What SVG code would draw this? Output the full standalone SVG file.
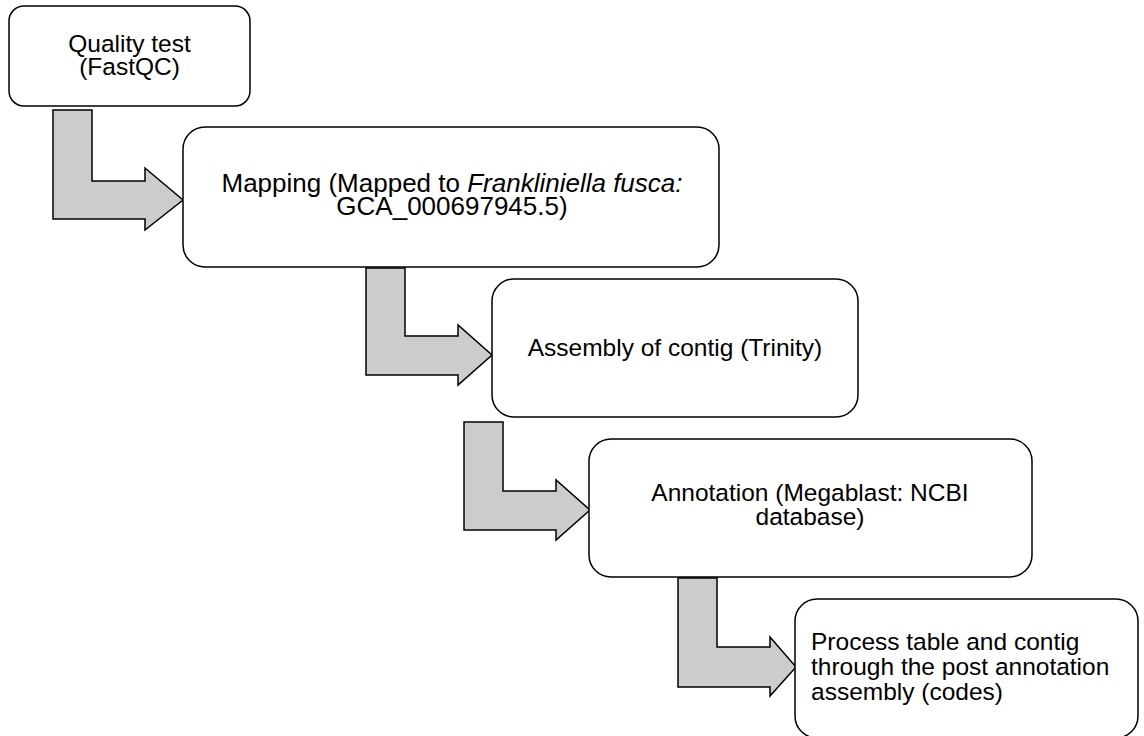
<svg xmlns="http://www.w3.org/2000/svg" width="1144" height="736" viewBox="0 0 1144 736">
<style>
.box{fill:#ffffff;stroke:#000000;stroke-width:1.5}
.arr{fill:#cccccc;stroke:#000000;stroke-width:1.5;stroke-linejoin:miter}
.t{font-family:"Liberation Sans",Arial,sans-serif;font-size:24.5px;fill:#000000}
.c{text-anchor:middle}
.big{font-size:26px}
</style>
<rect width="1144" height="736" fill="#ffffff"/>
<g id="connectors">
<polygon class="arr" points="53,110 92,110 92,181 145,181 145,168 183,200 145,230 145,219 53,219"/>
<polygon class="arr" points="366,268 405,268 405,336 458,336 458,325 492,355 458,385 458,375 366,375"/>
<polygon class="arr" points="464,422 503,422 503,491 556,491 556,480 590,510 556,540 556,530 464,530"/>
<polygon class="arr" points="678,578 717,578 717,647 770,647 770,637 796,667 770,696 770,687 678,687"/>
</g>
<g id="node-quality">
<rect class="box" x="9" y="6" width="241" height="100" rx="15"/>
<text class="t c" x="129.5" y="52">Quality test</text>
<text class="t c" x="129.5" y="75">(FastQC)</text>
</g>
<g id="node-mapping">
<rect class="box" x="183" y="127" width="536" height="140" rx="22"/>
<text class="t c big" x="452" y="192">Mapping (Mapped to <tspan font-style="italic">Frankliniella fusca:</tspan></text>
<text class="t c big" x="452" y="215">GCA_000697945.5)</text>
</g>
<g id="node-assembly">
<rect class="box" x="492" y="279" width="366" height="138" rx="22"/>
<text class="t c" x="675" y="356">Assembly of contig (Trinity)</text>
</g>
<g id="node-annotation">
<rect class="box" x="589" y="439" width="443" height="138" rx="22"/>
<text class="t c" x="810" y="501">Annotation (Megablast: NCBI</text>
<text class="t c" x="810" y="525">database)</text>
</g>
<g id="node-process">
<rect class="box" x="795" y="599" width="343" height="139" rx="22"/>
<text class="t" x="811" y="650">Process table and contig</text>
<text class="t" x="811" y="675">through the post annotation</text>
<text class="t" x="811" y="700">assembly (codes)</text>
</g>
</svg>
